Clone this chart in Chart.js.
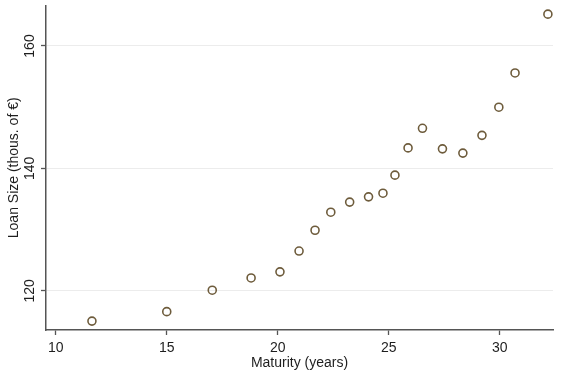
<!DOCTYPE html>
<html>
<head>
<meta charset="utf-8">
<script src="https://cdn.jsdelivr.net/npm/chart.js@4/dist/chart.umd.min.js"></script>
<style>
html,body{margin:0;padding:0;background:#fff;}
#wrap{width:566px;height:375px;position:relative;}
</style>
</head>
<body>
<div id="wrap"><canvas id="c" width="566" height="375"></canvas></div>
<script>
const maturity = [11.63, 15.0, 17.05, 18.8, 20.1, 20.96, 21.68, 22.39, 23.24, 24.09, 24.74, 25.28, 25.87, 26.52, 27.42, 28.34, 29.2, 29.96, 30.69, 32.17];
const loanSize = [115.05, 116.6, 120.1, 122.1, 123.1, 126.5, 129.9, 132.85, 134.5, 135.35, 135.95, 138.9, 143.35, 146.55, 143.2, 142.5, 145.4, 150.0, 155.6, 165.2];
const xTicks = [10, 15, 20, 25, 30];
const yTicks = [120, 140, 160];
const xTitle = "Maturity (years)";
const yTitle = "Loan Size (thous. of €)";

const points = maturity.map((m, i) => ({x: m, y: loanSize[i]}));
const FONT = '14px "Liberation Sans", Arial, sans-serif';
const TXT = '#1e1e1e';

const textPlugin = {
  id: 'textPlugin',
  afterDraw(chart) {
    const ctx = chart.ctx;
    const xs = chart.scales.x, ys = chart.scales.y;
    ctx.save();
    ctx.fillStyle = TXT;
    ctx.font = FONT;
    // x tick labels
    ctx.textAlign = 'center';
    ctx.textBaseline = 'middle';
    xTicks.forEach(v => ctx.fillText(String(v), xs.getPixelForValue(v), 348));
    // x title
    ctx.fillText(xTitle, (chart.chartArea.left + chart.chartArea.right) / 2, 363);
    // y tick labels rotated
    yTicks.forEach(v => {
      ctx.save();
      ctx.translate(30, ys.getPixelForValue(v));
      ctx.rotate(-Math.PI / 2);
      ctx.fillText(String(v), 0, 0);
      ctx.restore();
    });
    // y title
    ctx.save();
    ctx.translate(14, (chart.chartArea.top + chart.chartArea.bottom) / 2);
    ctx.rotate(-Math.PI / 2);
    ctx.fillText(yTitle, 0, 0);
    ctx.restore();
    ctx.restore();
  }
};

new Chart(document.getElementById('c'), {
  type: 'scatter',
  data: {
    datasets: [{
      data: points,
      pointStyle: 'circle',
      pointRadius: 4,
      pointHoverRadius: 4,
      pointBorderWidth: 1.6,
      borderColor: '#6e5c3c',
      backgroundColor: 'rgba(0,0,0,0)',
      pointBackgroundColor: 'rgba(0,0,0,0)'
    }]
  },
  options: {
    responsive: false,
    animation: false,
    events: [],
    layout: { padding: { top: 5, right: 13, left: 0, bottom: 0 } },
    plugins: { legend: { display: false }, tooltip: { enabled: false } },
    scales: {
      x: {
        type: 'linear',
        min: 9.56,
        max: 32.4,
        afterBuildTicks: s => { s.ticks = xTicks.map(v => ({value: v})); },
        afterFit: s => { s.height = 45; },
        ticks: { display: false },
        grid: { drawOnChartArea: false, drawTicks: true, tickLength: 5, tickColor: '#555', tickWidth: 1.3 },
        border: { color: '#555', width: 1.5 }
      },
      y: {
        type: 'linear',
        min: 113.6,
        max: 166.6,
        afterBuildTicks: s => { s.ticks = yTicks.map(v => ({value: v})); },
        afterFit: s => { s.width = 46; },
        ticks: { display: false },
        grid: { drawOnChartArea: true, color: '#ececec', lineWidth: 1, drawTicks: true, tickLength: 5, tickColor: '#555', tickWidth: 1.3 },
        border: { color: '#555', width: 1.5 }
      }
    }
  },
  plugins: [textPlugin]
});
</script>
</body>
</html>
